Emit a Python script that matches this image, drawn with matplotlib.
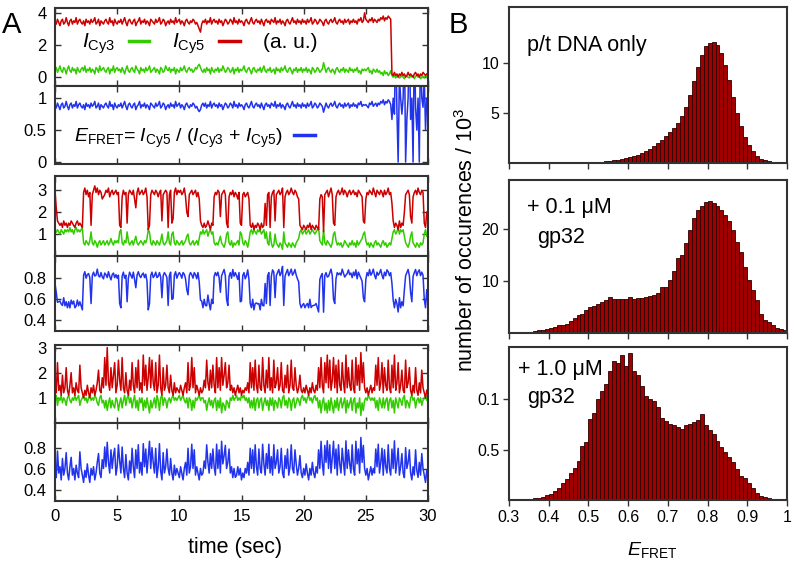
import numpy as np
import matplotlib
matplotlib.use('Agg')
import matplotlib.pyplot as plt
from matplotlib.lines import Line2D

# --- fonts ---
plt.rcParams['font.family'] = ['Liberation Sans', 'DejaVu Sans']
plt.rcParams['mathtext.fontset'] = 'custom'
plt.rcParams['mathtext.rm'] = 'Liberation Sans'
plt.rcParams['mathtext.it'] = 'Liberation Sans:italic'
plt.rcParams['mathtext.bf'] = 'Liberation Sans:bold'

# --- data: single molecule traces, 0.1 s per frame ---
dt = 0.1

top_cy5 = [
    3.5, 3.3, 3.6, 3.4, 3.2, 3.5, 3.6, 3.3, 3.4, 3.7,
    3.4, 3.2, 3.5, 3.6, 3.3, 3.5, 3.4, 3.7, 3.3, 3.5,
    3.6, 3.4, 3.3, 3.5, 3.2, 3.6, 3.4, 3.5, 3.3, 3.6,
    3.4, 3.5, 3.7, 3.3, 3.4, 3.6, 3.2, 3.5, 3.4, 3.3,
    3.5, 3.6, 3.4, 3.3, 3.7, 3.4, 3.5, 3.2, 3.6, 3.4,
    3.3, 3.5, 3.4, 3.6, 3.3, 3.5, 3.7, 3.4, 3.2, 3.5,
    3.6, 3.4, 3.3, 3.5, 3.6, 3.2, 3.4, 3.5, 3.7, 3.3,
    3.5, 3.4, 3.6, 3.3, 3.5, 3.4, 3.2, 3.6, 3.5, 3.4,
    3.3, 3.6, 3.4, 3.5, 3.7, 3.3, 3.4, 3.6, 3.5, 3.2,
    3.4, 3.5, 3.3, 3.6, 3.4, 3.5, 3.3, 3.7, 3.4, 3.5,
    3.6, 3.3, 3.5, 3.4, 3.2, 3.5, 3.6, 3.4, 3.3, 3.5,
    3.4, 3.6, 3.5, 3.3, 3.4, 3.2, 3.0, 2.8, 3.3, 3.5,
    3.4, 3.6, 3.3, 3.5, 3.4, 3.7, 3.3, 3.5, 3.6, 3.4,
    3.5, 3.3, 3.6, 3.4, 3.5, 3.2, 3.4, 3.6, 3.5, 3.3,
    3.4, 3.6, 3.5, 3.3, 3.7, 3.4, 3.5, 3.3, 3.6, 3.4,
    3.5, 3.4, 3.2, 3.5, 3.6, 3.4, 3.3, 3.5, 3.7, 3.4,
    3.3, 3.5, 3.6, 3.4, 3.5, 3.3, 3.6, 3.4, 3.2, 3.5,
    3.6, 3.4, 3.5, 3.3, 3.6, 3.5, 3.4, 3.7, 3.3, 3.5,
    3.4, 3.6, 3.3, 3.5, 3.4, 3.2, 3.5, 3.6, 3.4, 3.3,
    3.5, 3.7, 3.4, 3.5, 3.3, 3.6, 3.4, 3.5, 3.3, 3.6,
    3.4, 3.5, 3.3, 3.6, 3.4, 3.5, 3.7, 3.3, 3.4, 3.6,
    3.5, 3.3, 3.4, 3.6, 3.5, 3.4, 3.2, 3.5, 3.6, 3.4,
    3.3, 3.5, 3.6, 3.4, 3.5, 3.7, 3.4, 3.3, 3.5, 3.6,
    3.4, 3.5, 3.3, 3.6, 3.4, 3.5, 3.6, 3.3, 3.5, 3.4,
    3.6, 3.4, 3.5, 3.3, 3.6, 3.5, 3.7, 3.4, 3.5, 4.0,
    3.6, 3.5, 3.4, 3.6, 3.5, 3.7, 3.4, 3.6, 3.5, 3.4,
    3.6, 3.5, 3.7, 3.6, 3.8, 3.5, 3.7, 3.6, 3.8, 3.7,
    3.6, 0.2, 0.1, 0.3, 0.1, 0.2, 0.0, 0.2, 0.1, 0.3,
    0.1, 0.2, 0.0, 0.1, 0.3, 0.1, 0.2, 0.1, 0.0, 0.2,
    0.3, 0.1, 0.2, 0.0, 0.2, 0.1, 0.3, 0.2, 0.1, 0.2,
]
top_cy3 = [
    0.4, 0.6, 0.3, 0.5, 0.7, 0.4, 0.3, 0.6, 0.5, 0.2,
    0.5, 0.7, 0.4, 0.3, 0.6, 0.4, 0.5, 0.2, 0.6, 0.4,
    0.3, 0.5, 0.6, 0.4, 0.7, 0.3, 0.5, 0.4, 0.6, 0.3,
    0.5, 0.4, 0.2, 0.6, 0.5, 0.3, 0.7, 0.4, 0.5, 0.6,
    0.4, 0.3, 0.5, 0.6, 0.2, 0.5, 0.4, 0.7, 0.3, 0.5,
    0.6, 0.4, 0.5, 0.3, 0.6, 0.4, 0.2, 0.5, 0.7, 0.4,
    0.3, 0.5, 0.6, 0.4, 0.3, 0.7, 0.5, 0.4, 0.2, 0.6,
    0.4, 0.5, 0.3, 0.6, 0.4, 0.5, 0.7, 0.3, 0.4, 0.5,
    0.6, 0.3, 0.5, 0.4, 0.2, 0.6, 0.5, 0.3, 0.4, 0.7,
    0.5, 0.4, 0.6, 0.3, 0.5, 0.4, 0.6, 0.2, 0.5, 0.4,
    0.3, 0.6, 0.4, 0.5, 0.7, 0.4, 0.3, 0.5, 0.6, 0.4,
    0.5, 0.3, 0.4, 0.6, 0.5, 0.7, 0.8, 0.6, 0.4, 0.3,
    0.5, 0.3, 0.6, 0.4, 0.5, 0.2, 0.6, 0.4, 0.3, 0.5,
    0.4, 0.6, 0.3, 0.5, 0.4, 0.7, 0.5, 0.3, 0.4, 0.6,
    0.5, 0.3, 0.4, 0.6, 0.2, 0.5, 0.4, 0.6, 0.3, 0.5,
    0.4, 0.5, 0.7, 0.4, 0.3, 0.5, 0.6, 0.4, 0.2, 0.5,
    0.6, 0.4, 0.3, 0.5, 0.4, 0.6, 0.3, 0.5, 0.7, 0.4,
    0.3, 0.5, 0.4, 0.6, 0.3, 0.4, 0.5, 0.2, 0.6, 0.4,
    0.5, 0.3, 0.6, 0.4, 0.5, 0.7, 0.4, 0.3, 0.5, 0.6,
    0.4, 0.2, 0.5, 0.4, 0.6, 0.3, 0.5, 0.4, 0.6, 0.3,
    0.5, 0.4, 0.6, 0.3, 0.5, 0.4, 0.2, 0.6, 0.5, 0.3,
    0.4, 0.6, 0.5, 0.3, 0.4, 0.5, 0.9, 0.6, 0.3, 0.5,
    0.6, 0.4, 0.3, 0.5, 0.4, 0.2, 0.5, 0.6, 0.4, 0.3,
    0.5, 0.4, 0.6, 0.3, 0.5, 0.4, 0.3, 0.6, 0.4, 0.5,
    0.3, 0.5, 0.4, 0.6, 0.3, 0.4, 0.2, 0.5, 0.4, 0.5,
    0.4, 0.5, 0.6, 0.3, 0.4, 0.2, 0.5, 0.4, 0.3, 0.5,
    0.3, 0.4, 0.2, 0.3, 0.1, 0.4, 0.2, 0.3, 0.1, 0.2,
    0.4, 0.1, 0.0, 0.1, -0.05, 0.05, 0.1, -0.05, 0.0, 0.1,
    0.0, -0.1, 0.1, 0.05, 0.0, -0.05, 0.1, 0.0, 0.1, -0.1,
    0.05, 0.1, 0.0, 0.1, -0.1, 0.0, 0.05, -0.05, 0.1, 0.0,
]

mid_cy5 = [
    3.0, 2.2, 1.6, 1.5, 1.4, 1.5, 1.3, 1.6, 1.4, 1.5,
    1.3, 1.5, 1.4, 1.6, 1.5, 1.4, 1.3, 1.5, 1.6, 1.4,
    1.5, 1.4, 1.3, 2.9, 3.1, 2.8, 3.0, 2.7, 2.9, 1.4,
    2.8, 3.0, 3.2, 2.9, 3.1, 2.8, 3.0, 2.9, 2.6, 2.7,
    2.8, 3.0, 2.9, 3.1, 2.7, 2.9, 3.0, 2.8, 2.9, 3.0,
    2.8, 2.9, 1.4, 1.3, 2.7, 3.0, 2.8, 2.9, 1.5, 2.8,
    3.0, 2.9, 2.8, 3.0, 2.6, 2.2, 2.9, 3.1, 2.8, 2.9,
    3.0, 2.8, 2.9, 3.1, 2.7, 1.2, 1.4, 2.8, 3.0, 2.9,
    2.8, 3.0, 2.9, 2.7, 2.9, 3.0, 1.6, 2.8, 2.9, 3.0,
    2.9, 1.3, 2.8, 3.0, 1.5, 1.7, 2.9, 3.1, 2.8, 3.0,
    2.9, 3.0, 2.8, 2.9, 3.1, 2.7, 2.0, 1.8, 2.8, 2.9,
    3.0, 2.8, 2.9, 3.0, 2.7, 2.9, 2.6, 1.6, 1.4, 1.3,
    1.5, 1.3, 1.4, 1.6, 1.4, 1.2, 1.5, 1.4, 2.7, 2.9,
    2.8, 3.0, 2.9, 1.8, 2.8, 2.9, 3.0, 2.8, 1.5, 1.3,
    2.7, 2.9, 2.8, 3.0, 2.7, 2.9, 2.8, 2.6, 2.9, 1.5,
    1.4, 2.8, 2.9, 2.7, 2.8, 2.9, 2.6, 1.4, 1.3, 1.5,
    1.2, 1.4, 1.3, 1.5, 1.4, 1.2, 1.5, 1.3, 1.4, 2.4,
    1.4, 2.8, 2.9, 1.3, 2.7, 2.9, 3.0, 1.6, 2.8, 2.9,
    3.0, 2.8, 2.9, 3.1, 1.3, 2.7, 2.9, 3.0, 2.8, 2.9,
    3.1, 2.9, 2.8, 3.0, 2.9, 2.7, 2.6, 1.4, 1.3, 1.2,
    1.4, 1.3, 1.2, 1.4, 1.3, 1.5, 1.2, 1.4, 1.3, 1.2,
    1.4, 1.3, 1.2, 2.6, 2.8, 2.7, 1.1, 2.8, 2.9, 3.0,
    2.7, 2.9, 3.1, 2.8, 1.5, 1.4, 2.7, 2.9, 3.0, 2.8,
    2.9, 3.1, 2.8, 3.0, 2.9, 2.7, 2.9, 3.0, 2.8, 2.9,
    3.0, 2.8, 2.9, 2.7, 3.0, 2.9, 2.8, 2.7, 1.6, 1.5,
    2.6, 2.9, 2.8, 3.0, 2.9, 2.8, 3.1, 2.9, 2.7, 3.0,
    2.9, 2.8, 3.0, 2.9, 2.7, 3.0, 2.8, 2.9, 3.1, 2.8,
    2.9, 2.4, 1.6, 1.3, 1.5, 1.4, 1.2, 1.6, 1.3, 1.5,
    1.4, 2.0, 2.8, 2.9, 3.0, 2.8, 1.8, 1.5, 2.7, 2.9,
    3.0, 2.8, 3.1, 2.9, 2.8, 3.0, 2.9, 1.5, 1.3, 2.0,
]
mid_cy3 = [
    1.0, 1.1, 1.2, 1.1, 1.0, 1.2, 1.1, 1.0, 1.2, 1.1,
    1.2, 1.1, 1.3, 1.1, 1.2, 1.0, 1.2, 1.3, 1.1, 1.2,
    1.1, 1.2, 1.3, 0.6, 0.5, 0.7, 0.6, 0.5, 0.7, 1.1,
    0.6, 0.5, 0.7, 0.6, 0.4, 0.6, 0.7, 0.5, 0.6, 0.7,
    0.5, 0.6, 0.7, 0.5, 0.6, 0.8, 0.6, 0.5, 0.7, 0.6,
    0.7, 0.6, 1.1, 1.2, 0.6, 0.5, 0.7, 0.6, 1.1, 0.7,
    0.5, 0.6, 0.7, 0.5, 0.7, 0.9, 0.6, 0.5, 0.6, 0.7,
    0.6, 0.5, 0.7, 0.6, 0.8, 1.2, 1.1, 0.6, 0.5, 0.7,
    0.6, 0.5, 0.7, 0.6, 0.5, 0.7, 1.0, 0.6, 0.5, 0.6,
    0.7, 1.1, 0.6, 0.5, 1.0, 1.1, 0.6, 0.5, 0.7, 0.6,
    0.5, 0.6, 0.7, 0.5, 0.6, 0.7, 0.9, 1.0, 0.6, 0.5,
    0.6, 0.7, 0.5, 0.6, 0.7, 0.5, 0.8, 1.1, 1.0, 1.2,
    1.0, 1.1, 1.2, 0.9, 1.1, 1.2, 1.0, 1.1, 0.6, 0.5,
    0.6, 0.5, 0.7, 0.9, 0.6, 0.5, 0.4, 0.6, 1.0, 1.1,
    0.6, 0.5, 0.7, 0.4, 0.6, 0.5, 0.6, 0.7, 0.5, 1.1,
    1.0, 0.6, 0.5, 0.7, 0.6, 0.4, 0.7, 1.1, 1.2, 1.0,
    1.2, 1.1, 1.0, 1.2, 1.1, 1.2, 1.0, 1.1, 1.2, 0.8,
    1.1, 0.6, 0.5, 1.1, 0.6, 0.4, 0.5, 1.0, 0.6, 0.5,
    0.4, 0.6, 0.5, 0.3, 1.1, 0.6, 0.5, 0.4, 0.6, 0.5,
    0.4, 0.6, 0.5, 0.4, 0.6, 0.7, 0.8, 1.1, 1.2, 1.0,
    1.1, 1.2, 1.0, 1.1, 1.2, 1.0, 1.1, 1.2, 1.1, 1.0,
    1.1, 1.2, 1.3, 0.7, 0.6, 0.5, 1.2, 0.6, 0.5, 0.7,
    0.6, 0.5, 0.4, 0.6, 1.0, 1.1, 0.7, 0.5, 0.6, 0.5,
    0.6, 0.4, 0.5, 0.7, 0.6, 0.5, 0.4, 0.6, 0.5, 0.7,
    0.5, 0.6, 0.4, 0.7, 0.5, 0.6, 0.7, 0.8, 1.0, 1.1,
    0.7, 0.5, 0.6, 0.4, 0.6, 0.5, 0.4, 0.6, 0.7, 0.5,
    0.6, 0.5, 0.4, 0.6, 0.7, 0.5, 0.6, 0.4, 0.5, 0.6,
    0.5, 0.8, 1.1, 1.2, 1.0, 1.1, 1.3, 1.0, 1.2, 1.1,
    1.2, 0.9, 0.6, 0.5, 0.4, 0.6, 0.9, 1.1, 0.6, 0.5,
    0.4, 0.6, 0.5, 0.4, 0.6, 0.5, 0.6, 1.0, 1.2, 0.9,
]

bot_cy5 = [
    1.4, 1.2, 2.4, 1.3, 1.5, 1.1, 1.9, 1.2, 1.4, 2.2,
    1.3, 1.1, 1.5, 2.0, 1.2, 1.4, 1.1, 1.6, 1.3, 1.2,
    2.3, 1.4, 1.2, 1.0, 1.3, 1.1, 1.5, 1.2, 1.0, 1.4,
    1.2, 1.5, 1.1, 1.3, 1.6, 2.1, 1.3, 1.2, 1.8, 1.4,
    2.6, 1.5, 3.0, 1.6, 1.3, 2.2, 1.4, 1.9, 2.4, 1.2,
    1.5, 2.5, 1.7, 1.3, 2.6, 1.4, 1.2, 2.0, 1.3, 1.1,
    1.7, 1.3, 2.4, 1.5, 1.2, 2.2, 1.4, 2.5, 1.3, 1.6,
    1.2, 2.7, 1.5, 2.3, 1.3, 1.8, 2.6, 1.4, 2.5, 1.6,
    1.3, 2.4, 1.2, 1.5, 2.7, 1.4, 1.1, 2.2, 1.3, 1.5,
    2.3, 1.4, 1.2, 1.9, 1.3, 1.1, 1.6, 1.2, 1.4, 1.3,
    1.2, 1.5, 1.3, 1.1, 1.4, 1.6, 1.2, 2.4, 1.3, 1.5,
    2.6, 1.4, 2.2, 1.2, 1.5, 1.3, 1.1, 1.4, 1.2, 1.3,
    1.7, 1.4, 2.5, 1.6, 1.3, 2.1, 1.4, 2.3, 1.5, 1.2,
    2.6, 1.4, 2.2, 1.3, 2.6, 1.5, 1.9, 2.4, 1.4, 1.6,
    2.3, 1.3, 1.5, 1.2, 1.4, 1.1, 1.3, 1.5, 1.2, 1.4,
    1.1, 1.3, 1.2, 1.4, 1.3, 1.6, 1.2, 2.4, 1.4, 2.2,
    1.3, 2.5, 1.5, 1.2, 2.3, 1.4, 1.3, 2.6, 1.5, 1.2,
    2.1, 1.4, 2.6, 1.3, 1.8, 1.2, 2.5, 1.4, 1.6, 2.2,
    1.3, 1.5, 2.4, 1.3, 1.2, 1.9, 1.4, 2.3, 1.2, 1.5,
    2.5, 1.4, 1.3, 2.2, 1.5, 1.2, 1.4, 1.9, 1.3, 1.2,
    1.4, 1.2, 1.5, 1.3, 1.1, 1.4, 1.2, 1.6, 1.3, 1.2,
    1.5, 1.3, 2.2, 1.4, 2.6, 1.5, 1.2, 2.4, 1.6, 2.7,
    1.4, 2.5, 1.3, 1.7, 2.6, 1.4, 2.3, 1.2, 2.5, 1.5,
    1.3, 2.4, 1.6, 1.2, 2.7, 1.4, 2.2, 1.5, 1.3, 2.5,
    1.4, 1.2, 2.6, 1.5, 2.3, 1.3, 2.8, 1.6, 2.4, 1.4,
    1.2, 1.4, 1.1, 1.3, 1.5, 1.2, 1.4, 1.3, 2.3, 1.5,
    2.6, 1.3, 1.6, 2.4, 1.2, 2.2, 1.5, 1.3, 2.5, 1.4,
    1.2, 2.3, 1.4, 2.7, 1.3, 1.6, 2.4, 1.2, 1.5, 2.1,
    1.3, 1.2, 2.5, 1.4, 1.6, 2.2, 1.3, 1.1, 1.5, 1.2,
    2.2, 1.3, 1.1, 1.6, 1.2, 2.1, 1.4, 1.2, 1.0, 1.3,
]
bot_cy3 = [
    1.0, 1.1, 0.7, 1.0, 0.9, 1.1, 0.8, 1.0, 0.9, 0.7,
    1.0, 1.1, 0.9, 0.8, 1.0, 0.9, 1.1, 0.9, 1.0, 1.1,
    0.7, 0.9, 1.0, 1.1, 0.9, 1.0, 0.8, 1.0, 1.1, 0.9,
    1.0, 0.9, 1.1, 1.0, 0.8, 0.7, 1.0, 1.1, 0.8, 0.9,
    0.6, 0.9, 0.5, 0.8, 1.0, 0.6, 0.9, 0.7, 0.6, 1.0,
    0.9, 0.5, 0.8, 1.0, 0.6, 0.9, 1.1, 0.7, 1.0, 1.1,
    0.8, 1.0, 0.6, 0.9, 1.1, 0.6, 0.9, 0.5, 1.0, 0.8,
    1.0, 0.5, 0.9, 0.6, 1.0, 0.7, 0.4, 0.9, 0.6, 0.8,
    1.0, 0.6, 1.1, 0.9, 0.5, 1.0, 1.1, 0.7, 1.0, 0.9,
    0.6, 0.9, 1.0, 0.8, 1.0, 1.1, 0.9, 1.0, 0.9, 1.0,
    1.1, 0.9, 1.0, 1.1, 0.9, 0.8, 1.0, 0.6, 1.0, 0.9,
    0.5, 0.9, 0.6, 1.0, 0.9, 1.0, 1.1, 0.9, 1.0, 1.0,
    0.8, 0.9, 0.5, 0.8, 1.0, 0.7, 0.9, 0.6, 0.9, 1.0,
    0.5, 0.9, 0.6, 1.0, 0.4, 0.8, 0.7, 0.5, 0.9, 0.8,
    0.6, 1.0, 0.9, 1.1, 0.9, 1.0, 1.1, 0.9, 1.0, 0.9,
    1.1, 1.0, 1.1, 0.9, 1.0, 0.8, 1.0, 0.6, 0.9, 0.6,
    1.0, 0.5, 0.9, 1.0, 0.6, 0.9, 1.0, 0.5, 0.8, 1.0,
    0.7, 0.9, 0.5, 1.0, 0.7, 1.0, 0.5, 0.9, 0.8, 0.6,
    1.0, 0.9, 0.6, 1.0, 1.1, 0.7, 0.9, 0.6, 1.0, 0.9,
    0.5, 0.9, 1.0, 0.6, 0.8, 1.0, 0.9, 0.7, 1.0, 1.1,
    0.9, 1.0, 0.8, 1.0, 1.1, 0.9, 1.0, 0.8, 1.0, 1.1,
    0.9, 1.0, 0.6, 0.9, 0.4, 0.8, 1.0, 0.5, 0.8, 0.4,
    0.9, 0.5, 1.0, 0.7, 0.4, 0.9, 0.6, 1.0, 0.5, 0.8,
    1.0, 0.6, 0.8, 1.0, 0.4, 0.9, 0.6, 0.8, 1.0, 0.5,
    0.9, 1.0, 0.4, 0.8, 0.6, 1.0, 0.3, 0.8, 0.5, 0.9,
    1.0, 0.9, 1.1, 1.0, 0.9, 1.0, 0.9, 1.0, 0.6, 0.9,
    0.5, 1.0, 0.8, 0.6, 1.0, 0.6, 0.9, 1.0, 0.5, 0.9,
    1.0, 0.6, 0.9, 0.4, 1.0, 0.8, 0.6, 1.0, 0.9, 0.7,
    1.0, 1.1, 0.6, 0.9, 0.8, 0.6, 1.0, 1.1, 0.9, 1.0,
    0.6, 0.9, 1.0, 0.8, 1.0, 0.7, 0.9, 1.0, 1.1, 0.9,
]

# --- data: E_FRET histograms (counts / 10^3), bins of 0.01 from 0.30 to 1.00 ---
hist_bin0 = 0.30
hist_width = 0.01
hist_pt = [
    0.0, 0.0, 0.0, 0.0, 0.01, 0.01, 0.01, 0.01, 0.02, 0.02,
    0.02, 0.02, 0.03, 0.03, 0.03, 0.04, 0.04, 0.05, 0.06, 0.07,
    0.08, 0.1, 0.12, 0.15, 0.18, 0.22, 0.27, 0.33, 0.4, 0.48,
    0.58, 0.7, 0.85, 1.0, 1.2, 1.45, 1.7, 2.0, 2.35, 2.7,
    3.1, 3.5, 4.0, 4.7, 5.6, 6.8, 8.2, 9.6, 10.8, 11.7,
    12.0, 12.1, 11.8, 11.0, 9.8, 8.3, 6.6, 5.0, 3.7, 2.6,
    1.8, 1.2, 0.75, 0.45, 0.28, 0.17, 0.1, 0.06, 0.04, 0.02,
]
hist_01 = [
    0.0, 0.05, 0.08, 0.1, 0.15, 0.2, 0.3, 0.5, 0.6, 0.7,
    0.9, 1.2, 1.5, 1.5, 1.8, 2.4, 2.8, 3.4, 3.7, 4.5,
    5.0, 5.2, 5.5, 6.0, 6.3, 7.0, 6.6, 6.5, 6.6, 6.6,
    7.0, 6.6, 6.8, 6.8, 7.0, 7.1, 7.3, 7.7, 8.9, 8.9,
    10.2, 12.0, 14.4, 15.0, 17.3, 19.9, 22.1, 23.7, 24.5, 25.2,
    25.4, 25.0, 24.4, 23.7, 22.8, 21.5, 19.9, 17.6, 15.7, 12.8,
    10.2, 8.3, 6.3, 3.7, 2.5, 2.1, 1.5, 1.0, 0.7, 0.5,
]
hist_10 = [
    0.0, 0.0, 0.0, 0.0, 0.005, 0.01, 0.015, 0.02, 0.03, 0.045,
    0.06, 0.09, 0.12, 0.17, 0.21, 0.27, 0.32, 0.39, 0.54, 0.58,
    0.80, 0.86, 1.0, 1.08, 1.15, 1.28, 1.38, 1.36, 1.44, 1.33,
    1.46, 1.28, 1.24, 1.13, 1.03, 1.0, 0.98, 0.92, 0.81, 0.78,
    0.76, 0.75, 0.73, 0.71, 0.75, 0.76, 0.77, 0.79, 0.85, 0.75,
    0.70, 0.66, 0.59, 0.53, 0.48, 0.43, 0.38, 0.31, 0.24, 0.22,
    0.17, 0.12, 0.07, 0.04, 0.03, 0.02, 0.01, 0.01, 0.0, 0.0,
]

RED = '#cc0000'
GREEN = '#33cc00'
BLUE = '#2233ee'
BAR = '#a00000'
SPINE = '#333333'

W, H = 796, 562
fig = plt.figure(figsize=(W / 100, H / 100), dpi=100)


def box(l, t, r, b):
    return [l / W, 1 - b / H, (r - l) / W, (b - t) / H]


def style_a(ax, ylim, yt, ytl, show_x):
    ax.set_xlim(0, 30)
    ax.set_ylim(*ylim)
    ax.set_yticks(yt)
    ax.set_yticklabels(ytl)
    ax.set_xticks(range(0, 31, 5))
    ax.tick_params(direction='in', top=True, right=True, length=4, width=1,
                   labelsize=12, pad=6, color=SPINE)
    if not show_x:
        ax.tick_params(labelbottom=False)
    for s in ax.spines.values():
        s.set_linewidth(1.5)
        s.set_color(SPINE)


# --- panel A: traces ---
traces = [
    (top_cy3, top_cy5, (8, 86, 164), (-0.55, 4.3), [0, 2, 4], ['0', '2', '4'],
     (-0.03, 1.19), [0, 0.5, 1], ['0', '0.5', '1']),
    (mid_cy3, mid_cy5, (176, 256, 331), (0, 3.65), [1, 2, 3], ['1', '2', '3'],
     (0.3, 1.01), [0.4, 0.6, 0.8], ['0.4', '0.6', '0.8']),
    (bot_cy3, bot_cy5, (345, 423, 501), (0, 3.1), [1, 2, 3], ['1', '2', '3'],
     (0.3, 1.04), [0.4, 0.6, 0.8], ['0.4', '0.6', '0.8']),
]

axes_a = []
for i, (cy3, cy5, (yt, ym, yb), ylim_i, yt_i, ytl_i, ylim_e, yt_e, ytl_e) in enumerate(traces):
    cy3 = np.array(cy3)
    cy5 = np.array(cy5)
    t = np.arange(len(cy5)) * dt
    efret = cy5 / (cy3 + cy5)

    ax_i = fig.add_axes(box(55, yt, 428, ym))
    ax_i.plot(t, cy3, color=GREEN, lw=1.1)
    ax_i.plot(t, cy5, color=RED, lw=1.1)
    style_a(ax_i, ylim_i, yt_i, ytl_i, False)

    ax_e = fig.add_axes(box(55, ym, 428, yb))
    ax_e.plot(t, efret, color=BLUE, lw=1.1)
    style_a(ax_e, ylim_e, yt_e, ytl_e, i == 2)
    axes_a.append((ax_i, ax_e))

ax1, ax2 = axes_a[0]
ax1.legend([Line2D([], [], color=GREEN, lw=2.5), Line2D([], [], color=RED, lw=2.5),
            Line2D([], [], color='none')],
           [r'$I_{\mathrm{Cy3}}$', r'$I_{\mathrm{Cy5}}$', '(a. u.)'],
           ncol=3, markerfirst=False, frameon=False, loc='center left',
           bbox_to_anchor=(0.072, 0.54), borderaxespad=0, borderpad=0,
           handlelength=1.0, handletextpad=0.65, columnspacing=1.1, fontsize=15)
ax2.legend([Line2D([], [], color=BLUE, lw=2.5)],
           [r'$E_{\mathrm{FRET}}$= $I_{\mathrm{Cy5}}$ / ($I_{\mathrm{Cy3}}$ + $I_{\mathrm{Cy5}}$)'],
           markerfirst=False, frameon=False, loc='center left',
           bbox_to_anchor=(0.05, 0.33), borderaxespad=0, borderpad=0,
           handlelength=1.1, handletextpad=0.6, fontsize=14)

# --- panel B: histograms ---
hists = [
    (hist_pt, (7, 163), (0, 15.6), [5, 10], ['5', '10'], ['p/t DNA only'], [(0.065, 0.756)]),
    (hist_01, (180, 333), (0, 29.5), [10, 20], ['10', '20'], ['+ 0.1 μM', 'gp32'],
     [(0.065, 0.817), (0.10, 0.627)]),
    (hist_10, (347, 500), (0, 1.52), [0.5, 1.0], ['0.5', '0.1'], ['+ 1.0 μM', 'gp32'],
     [(0.032, 0.85), (0.065, 0.667)]),
]
for j, (vals, (yt, yb), ylim, ytk, ytl, notes, pos) in enumerate(hists):
    ax = fig.add_axes(box(509, yt, 787, yb))
    edges = hist_bin0 + hist_width * np.arange(len(vals))
    ax.bar(edges, vals, width=hist_width, align='edge', color=BAR,
           edgecolor='#2a0000', linewidth=0.6)
    ax.set_xlim(0.3, 1.0)
    ax.set_ylim(*ylim)
    ax.set_yticks(ytk)
    ax.set_yticklabels(ytl)
    ax.set_xticks([0.3, 0.4, 0.5, 0.6, 0.7, 0.8, 0.9, 1.0])
    ax.set_xticklabels(['0.3', '0.4', '0.5', '0.6', '0.7', '0.8', '0.9', '1'])
    ax.tick_params(direction='out', length=4, width=1, labelsize=11.5, pad=3,
                   color=SPINE)
    if j < 2:
        ax.tick_params(labelbottom=False)
    for s in ax.spines.values():
        s.set_linewidth(1.5)
        s.set_color(SPINE)
    for txt, (px, py) in zip(notes, pos):
        ax.text(px, py, txt, transform=ax.transAxes, fontsize=15.5,
                ha='left', va='center')

# --- labels ---
fig.text(2 / W, 1 - 33 / H, 'A', fontsize=21, va='baseline', ha='left')
fig.text(449 / W, 1 - 33 / H, 'B', fontsize=21, va='baseline', ha='left')
fig.text(235 / W, 1 - 548 / H, 'time (sec)', fontsize=15.5, ha='center', va='center')
fig.text(652 / W, 1 - 550 / H, r'$E_{\mathrm{FRET}}$', fontsize=14, ha='center', va='center')
fig.text(467 / W, 1 - 240 / H, 'number of occurences / 10$^{3}$', fontsize=15.5,
         rotation=90, ha='center', va='center')

fig.savefig('out.png', dpi=100)
